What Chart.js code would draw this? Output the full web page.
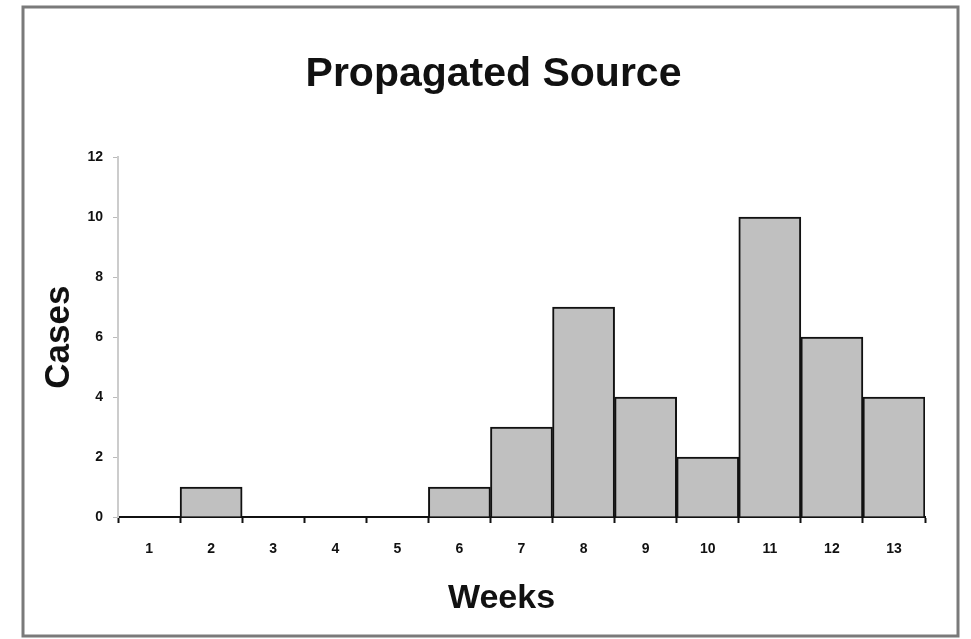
<!DOCTYPE html>
<html>
<head>
<meta charset="utf-8">
<script src="https://cdn.jsdelivr.net/npm/chart.js@4/dist/chart.umd.min.js"></script>
<style>
  html, body { margin: 0; padding: 0; background: #fff; }
  #wrap { width: 971px; height: 639px; }
</style>
</head>
<body>
<div id="wrap"><canvas id="chart" width="971" height="639"></canvas></div>
<script>
  // ===== Data =====
  const weeks = ["1", "2", "3", "4", "5", "6", "7", "8", "9", "10", "11", "12", "13"];
  const cases = [0, 1, 0, 0, 0, 1, 3, 7, 4, 2, 10, 6, 4];
  const yMin = 0, yMax = 12, yStep = 2;

  // ===== Frame round the whole picture + small title nudges =====
  const framePlugin = {
    id: "frame",
    afterLayout(chart) {
      // main title sits a little right of the plot centre in the original
      if (chart.titleBlock) {
        chart.titleBlock.left += 14;
        chart.titleBlock.right += 14;
      }
      // "Weeks" sits a little left of the plot centre
      const xs = chart.scales.x;
      const baseDrawTitle = Object.getPrototypeOf(xs).drawTitle;
      xs.drawTitle = function () {
        this.ctx.save();
        this.ctx.translate(-20, 0);
        baseDrawTitle.call(this);
        this.ctx.restore();
      };
    },
    beforeDraw(chart) {
      const c = chart.ctx;
      c.save();
      c.fillStyle = "#fff";
      c.fillRect(0, 0, chart.width, chart.height);
      c.strokeStyle = "#7a7a7a";
      c.lineWidth = 3;
      c.strokeRect(23, 7, 935, 629);
      c.restore();
    }
  };

  const ctx = document.getElementById("chart").getContext("2d");
  new Chart(ctx, {
    type: "bar",
    data: {
      labels: weeks,
      datasets: [{
        data: cases,
        backgroundColor: "#c0c0c0",
        borderColor: "#111",
        borderWidth: 2,
        borderSkipped: "bottom",
        barPercentage: 1,
        categoryPercentage: 1
      }]
    },
    options: {
      responsive: false,
      animation: false,
      layout: { padding: { left: 34, top: 50, right: 46, bottom: 12 } },
      plugins: {
        legend: { display: false },
        tooltip: { enabled: false },
        title: {
          display: true,
          text: "Propagated Source",
          color: "#111",
          font: { family: "Liberation Sans", size: 41, weight: "bold" },
          padding: { top: 0, bottom: 58 }
        }
      },
      scales: {
        x: {
          grid: {
            offset: true,
            drawOnChartArea: false,
            drawTicks: true,
            tickLength: 6,
            tickWidth: 2,
            tickColor: "#111"
          },
          border: { display: true, color: "#111", width: 2 },
          ticks: {
            color: "#111",
            padding: 18,
            font: { family: "Liberation Sans", size: 14, weight: "bold" }
          },
          title: {
            display: true,
            text: "Weeks",
            color: "#111",
            font: { family: "Liberation Sans", size: 34, weight: "bold" },
            padding: { top: 4, bottom: 8 }
          },
          afterFit(scale) { scale.height = 110; }
        },
        y: {
          min: yMin,
          max: yMax,
          grid: {
            drawOnChartArea: false,
            drawTicks: true,
            tickLength: 5,
            tickColor: "#bbb"
          },
          border: { display: true, color: "#ccc", width: 2 },
          ticks: {
            stepSize: yStep,
            color: "#111",
            padding: 10,
            font: { family: "Liberation Sans", size: 14, weight: "bold" }
          },
          title: {
            display: true,
            text: "Cases",
            color: "#111",
            font: { family: "Liberation Sans", size: 35, weight: "bold" },
            padding: 4
          },
          afterFit(scale) { scale.width = 84; }
        }
      }
    },
    plugins: [framePlugin]
  });
</script>
</body>
</html>
